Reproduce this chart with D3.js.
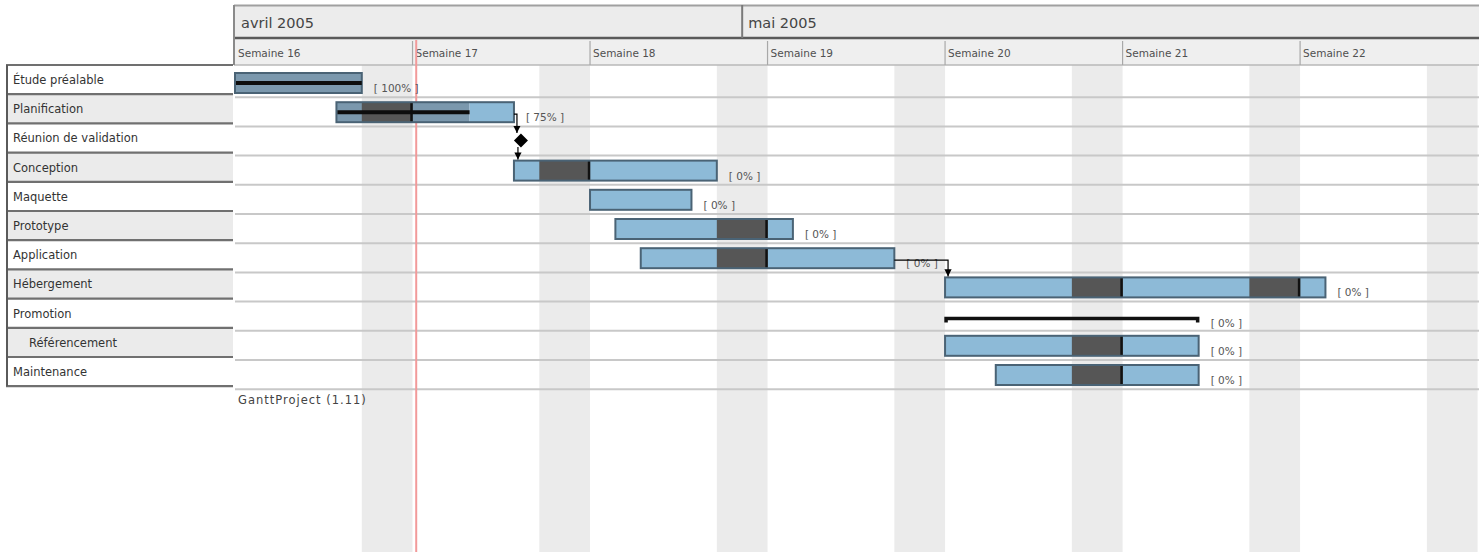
<!DOCTYPE html>
<html><head><meta charset="utf-8">
<script src="https://cdn.jsdelivr.net/npm/d3@7"></script>
<style>html,body{margin:0;padding:0;background:#fff;}svg{display:block;}</style>
</head><body>
<svg id="chart" width="1479" height="552"></svg>
<script>
// ---------- data ----------
const taskNames = ["Étude préalable","Planification","Réunion de validation","Conception","Maquette","Prototype","Application","Hébergement","Promotion","Référencement","Maintenance"];
const taskStarts = ["2005-04-11","2005-04-15","2005-04-22","2005-04-22","2005-04-25","2005-04-26","2005-04-27","2005-05-09","2005-05-09","2005-05-09","2005-05-11"];
const taskEnds   = ["2005-04-16","2005-04-22","2005-04-22","2005-04-30","2005-04-29","2005-05-03","2005-05-07","2005-05-24","2005-05-19","2005-05-19","2005-05-19"];
const taskProgress = [100,75,0,0,0,0,0,0,0,0,0];
const taskTypes = ["task","task","milestone","task","task","task","task","task","summary","task","task"];
const taskIndent = [0,0,0,0,0,0,0,0,0,1,0];
const dependencies = [[1,2],[2,3],[6,7]];
const weekLabels = ["Semaine 16","Semaine 17","Semaine 18","Semaine 19","Semaine 20","Semaine 21","Semaine 22"];
const weekStarts = ["2005-04-11","2005-04-18","2005-04-25","2005-05-02","2005-05-09","2005-05-16","2005-05-23"];
const monthLabels = ["avril 2005","mai 2005"];
const monthStarts = ["2005-04-11","2005-05-01"];
const viewRange = ["2005-04-11","2005-05-30"];
const todayDate = "2005-04-18T03:30";
const footerText = "GanttProject (1.11)";

// ---------- setup ----------
const parse = s => new Date(s.length > 10 ? s + ":00Z" : s + "T00:00:00Z");
const svg = d3.select("#chart");
const W = 1479, H = 552;
const x = d3.scaleUtc().domain(viewRange.map(parse)).range([235, 1477.6]);
const rowH = 29.2;
const tableTop = 65, chartTop = 68;
const rowY = d3.scaleLinear().domain([0, 1]).range([chartTop, chartTop + rowH]);
const tabY = d3.scaleLinear().domain([0, 1]).range([tableTop, tableTop + rowH]);
const barOff = 5, barH = 20;
const FONT = "DejaVu Sans, Verdana, sans-serif";

svg.append("rect").attr("width", W).attr("height", H).attr("fill", "#fff");

// weekend columns (Saturday -> Monday spans)
const saturdays = d3.utcSaturday.range(x.domain()[0], x.domain()[1]);
svg.append("g").selectAll("rect")
  .data(saturdays)
  .join("rect")
  .attr("x", d => x(d)).attr("width", d => x(d3.utcDay.offset(d, 2)) - x(d))
  .attr("y", 65).attr("height", H - 65)
  .attr("fill", "#ebebeb");

// chart row separators
svg.append("g").selectAll("line")
  .data(d3.range(1, taskNames.length + 1))
  .join("line")
  .attr("x1", 235).attr("x2", W)
  .attr("y1", d => rowY(d)).attr("y2", d => rowY(d))
  .attr("stroke", "#c8c8c8").attr("stroke-width", 2);

// ---------- header ----------
const hdr = svg.append("g");
hdr.append("rect").attr("x", 234).attr("y", 5).attr("width", W - 234).attr("height", 32).attr("fill", "#ececec");
hdr.append("rect").attr("x", 234).attr("y", 39).attr("width", W - 234).attr("height", 26).attr("fill", "#efefef");
hdr.append("line").attr("x1", 234).attr("x2", W).attr("y1", 5.5).attr("y2", 5.5).attr("stroke", "#a0a0a0").attr("stroke-width", 2);
hdr.append("line").attr("x1", 234).attr("x2", W).attr("y1", 38).attr("y2", 38).attr("stroke", "#5a5a5a").attr("stroke-width", 2.5);
hdr.append("line").attr("x1", 234).attr("x2", W).attr("y1", 65).attr("y2", 65).attr("stroke", "#b8b8b8").attr("stroke-width", 1.5);
hdr.append("line").attr("x1", 234).attr("x2", 234).attr("y1", 5).attr("y2", 65).attr("stroke", "#8a8a8a").attr("stroke-width", 2);
hdr.selectAll(".mdiv").data(monthStarts.slice(1)).join("line")
  .attr("x1", d => x(parse(d))).attr("x2", d => x(parse(d)))
  .attr("y1", 5).attr("y2", 38).attr("stroke", "#7a7a7a").attr("stroke-width", 2);
hdr.selectAll(".mlab").data(monthLabels).join("text")
  .attr("x", (d, i) => x(parse(monthStarts[i])) + 6).attr("y", 28)
  .attr("font-family", FONT).attr("font-size", 14.5).attr("fill", "#444").text(d => d);
hdr.selectAll(".wdiv").data(weekStarts.slice(1)).join("line")
  .attr("x1", d => x(parse(d))).attr("x2", d => x(parse(d)))
  .attr("y1", 41).attr("y2", 65).attr("stroke", "#a8a8a8").attr("stroke-width", 1.2);
hdr.selectAll(".wlab").data(weekLabels).join("text")
  .attr("x", (d, i) => x(parse(weekStarts[i])) + 3).attr("y", 57)
  .attr("font-family", FONT).attr("font-size", 10.5).attr("fill", "#505050").text(d => d);

// ---------- left table ----------
const tab = svg.append("g");
tab.selectAll("rect").data(taskNames).join("rect")
  .attr("x", 7).attr("width", 226)
  .attr("y", (d, i) => tabY(i)).attr("height", rowH)
  .attr("fill", (d, i) => i % 2 ? "#ebebeb" : "#fff");
tab.selectAll("line.r").data(d3.range(0, taskNames.length + 1)).join("line")
  .attr("x1", 6).attr("x2", 233)
  .attr("y1", d => tabY(d)).attr("y2", d => tabY(d))
  .attr("stroke", "#707070").attr("stroke-width", 2.2);
tab.append("line").attr("x1", 7).attr("x2", 7).attr("y1", tabY(0)).attr("y2", tabY(taskNames.length))
  .attr("stroke", "#5a5a5a").attr("stroke-width", 2);
tab.selectAll("text").data(taskNames).join("text")
  .attr("x", (d, i) => 13 + taskIndent[i] * 16).attr("y", (d, i) => tabY(i) + 19)
  .attr("font-family", FONT).attr("font-size", 11.5).attr("fill", "#333").text(d => d);

// today line
svg.append("line")
  .attr("x1", x(parse(todayDate))).attr("x2", x(parse(todayDate)))
  .attr("y1", 40).attr("y2", H).attr("stroke", "#f29a9a").attr("stroke-width", 2);

// ---------- bars ----------
const defs = svg.append("defs");
defs.append("marker").attr("id", "arr").attr("viewBox", "0 0 10 10")
  .attr("refX", 10).attr("refY", 5).attr("markerWidth", 6).attr("markerHeight", 6)
  .attr("orient", "auto").append("path").attr("d", "M0,0L10,5L0,10Z").attr("fill", "#000");

const tasks = taskNames.map((n, i) => ({
  name: n, i, s: parse(taskStarts[i]), e: parse(taskEnds[i]),
  p: taskProgress[i], type: taskTypes[i]
}));
const gBars = svg.append("g");

tasks.forEach(t => {
  const y0 = rowY(t.i) + barOff;
  const x0 = x(t.s), x1 = x(t.e);
  if (t.type === "task") {
    const xp = x0 + (x1 - x0) * t.p / 100;
    if (t.p > 0) gBars.append("rect").attr("x", x0).attr("y", y0).attr("width", xp - x0).attr("height", barH).attr("fill", "#7b98ad");
    gBars.append("rect").attr("x", xp).attr("y", y0).attr("width", x1 - xp).attr("height", barH).attr("fill", "#8dbad7");
    // non-working (weekend) parts, merged Sat+Sun
    d3.utcSaturday.range(d3.utcDay.offset(t.s, -1), t.e).forEach(sat => {
      const a = d3.max([sat, t.s]), b = d3.min([d3.utcDay.offset(sat, 2), t.e]);
      if (b <= a) return;
      gBars.append("rect").attr("x", x(a)).attr("y", y0).attr("width", x(b) - x(a))
        .attr("height", barH).attr("fill", "#565656");
      gBars.append("line").attr("x1", x(b) - 1).attr("x2", x(b) - 1)
        .attr("y1", y0).attr("y2", y0 + barH).attr("stroke", "#111").attr("stroke-width", 2.5);
    });
    gBars.append("rect").attr("x", x0).attr("y", y0).attr("width", x1 - x0).attr("height", barH)
      .attr("fill", "none").attr("stroke", "#4a6375").attr("stroke-width", 2);
    if (t.p > 0) gBars.append("line").attr("x1", x0 + 1).attr("x2", xp)
      .attr("y1", y0 + barH / 2).attr("y2", y0 + barH / 2).attr("stroke", "#0d0d0d").attr("stroke-width", 4);
  } else if (t.type === "summary") {
    const ly = rowY(t.i) + 17;
    gBars.append("path")
      .attr("d", `M${x0 + 1},${ly + 4}L${x0 + 1},${ly}L${x1 - 1},${ly}L${x1 - 1},${ly + 4}`)
      .attr("fill", "none").attr("stroke", "#111").attr("stroke-width", 3.5);
  } else if (t.type === "milestone") {
    const cx = x0 + 7, cy = rowY(t.i) + rowH / 2 - 0.5;
    gBars.append("path").attr("d", `M${cx},${cy - 7}L${cx + 7},${cy}L${cx},${cy + 7}L${cx - 7},${cy}Z`).attr("fill", "#000");
  }
  if (t.type !== "milestone") {
    gBars.append("text")
      .attr("x", x1 + 12).attr("y", t.type === "summary" ? rowY(t.i) + 25 : y0 + barH - 1)
      .attr("font-family", FONT).attr("font-size", 10.5).attr("fill", "#555")
      .text(`[ ${t.p}% ]`);
  }
});

// dependencies
dependencies.forEach(([a, b]) => {
  const A = tasks[a], B = tasks[b];
  let sx, sy;
  if (A.type === "milestone") { sx = x(A.s) + 4; sy = rowY(A.i) + rowH / 2 + 6; }
  else { sx = x(A.e); sy = rowY(A.i) + barOff + barH / 2 + 2; }
  const tx = x(B.s) + 3;
  const ty = B.type === "milestone" ? rowY(B.i) + rowH / 2 - 8 : rowY(B.i) + barOff - 1;
  const path = A.type === "milestone" ? `M${sx},${sy}L${sx},${ty}` : `M${sx},${sy}L${tx},${sy}L${tx},${ty}`;
  svg.append("path").attr("d", path).attr("fill", "none").attr("stroke", "#000").attr("stroke-width", 1.2)
    .attr("marker-end", "url(#arr)");
});

// footer
svg.append("text").attr("x", 238).attr("y", 404)
  .attr("font-family", FONT).attr("font-size", 11.5).attr("fill", "#444")
  .attr("letter-spacing", 1).text(footerText);
</script>
</body></html>
